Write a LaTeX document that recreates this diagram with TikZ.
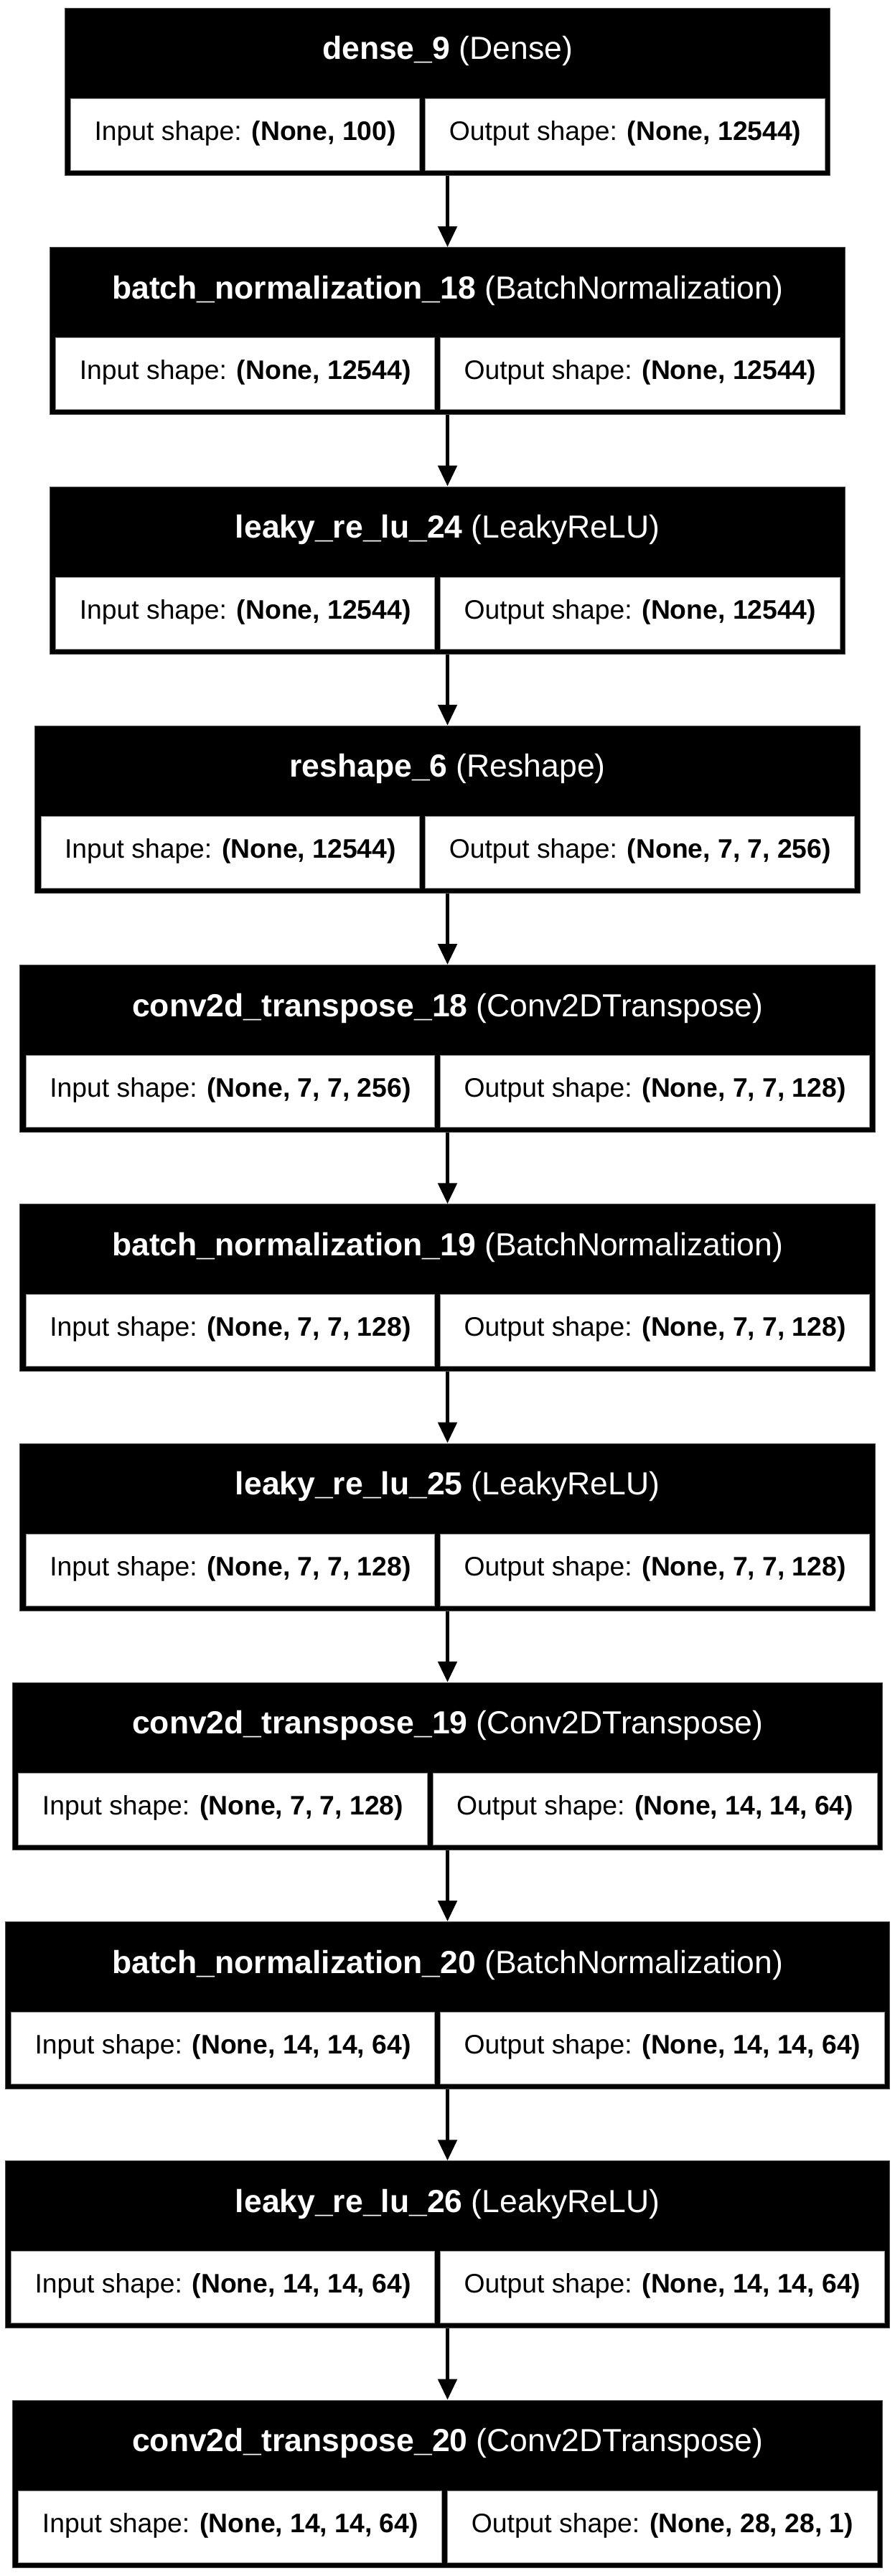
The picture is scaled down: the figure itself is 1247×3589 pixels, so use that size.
\documentclass[tikz,border=0pt]{standalone}
\usepackage{fontspec}
\setmainfont{Liberation Sans}
\usetikzlibrary{arrows.meta}
\newcommand\cellfont{\fontsize{37.3}{44}\selectfont}
\newcommand\headfont{\fontsize{44.5}{52}\selectfont}
\newcommand\inp[1]{Input shape: \textbf{#1}}
\newcommand\outp[1]{Output shape: \textbf{#1}}
\tikzset{
 outerbox/.style={fill=black, draw=black!70, line width=1pt, inner sep=0pt, minimum height=233pt},
 cellbox/.style={fill=white, draw=black!45, line width=1pt, inner sep=0pt, minimum height=100pt,
   text height=26pt, text depth=10pt, font=\cellfont, anchor=north west},
 headtext/.style={text=white, font=\headfont, inner sep=0pt, anchor=base},
 flow/.style={line width=5.5pt, -{Triangle[length=29pt,width=26pt]}},
}
\newcommand\layerbox[5]{%
 \pgfinterruptpicture
  \setbox1=\hbox{\cellfont #4}\xdef\mywa{\the\wd1}%
  \setbox1=\hbox{\cellfont #5}\xdef\mywb{\the\wd1}%
 \endpgfinterruptpicture
 \pgfmathsetmacro\wa{\mywa+66}%
 \pgfmathsetmacro\wb{\mywb+66}%
 \pgfmathsetmacro\W{\wa+\wb+24}%
 \pgfmathsetmacro\L{623.5-\W/2}%
 \node[outerbox, minimum width=\W pt, anchor=north] (#1) at (623.5,-#2) {};
 \node[headtext] (#1-head) at (623.5,-#2-72) {#3};
 \node[cellbox, minimum width=\wa pt] (#1-in) at (\L+8,-#2-126) {#4};
 \node[cellbox, minimum width=\wb pt] (#1-out) at (\L+16+\wa,-#2-126) {#5};
}
\begin{document}
\begin{tikzpicture}[x=1pt,y=1pt]
\useasboundingbox[fill=white] (0,0) rectangle (1247,-3589);
\layerbox{b1}{11}{\textbf{dense\_9} (Dense)}{\inp{(None, 100)}}{\outp{(None, 12544)}}
\layerbox{b2}{344.25}{\textbf{batch\_normalization\_18} (BatchNormalization)}{\inp{(None, 12544)}}{\outp{(None, 12544)}}
\layerbox{b3}{677.5}{\textbf{leaky\_re\_lu\_24} (LeakyReLU)}{\inp{(None, 12544)}}{\outp{(None, 12544)}}
\layerbox{b4}{1010.75}{\textbf{reshape\_6} (Reshape)}{\inp{(None, 12544)}}{\outp{(None, 7, 7, 256)}}
\layerbox{b5}{1344}{\textbf{conv2d\_transpose\_18} (Conv2DTranspose)}{\inp{(None, 7, 7, 256)}}{\outp{(None, 7, 7, 128)}}
\layerbox{b6}{1677.25}{\textbf{batch\_normalization\_19} (BatchNormalization)}{\inp{(None, 7, 7, 128)}}{\outp{(None, 7, 7, 128)}}
\layerbox{b7}{2010.5}{\textbf{leaky\_re\_lu\_25} (LeakyReLU)}{\inp{(None, 7, 7, 128)}}{\outp{(None, 7, 7, 128)}}
\layerbox{b8}{2343.75}{\textbf{conv2d\_transpose\_19} (Conv2DTranspose)}{\inp{(None, 7, 7, 128)}}{\outp{(None, 14, 14, 64)}}
\layerbox{b9}{2677}{\textbf{batch\_normalization\_20} (BatchNormalization)}{\inp{(None, 14, 14, 64)}}{\outp{(None, 14, 14, 64)}}
\layerbox{b10}{3010.25}{\textbf{leaky\_re\_lu\_26} (LeakyReLU)}{\inp{(None, 14, 14, 64)}}{\outp{(None, 14, 14, 64)}}
\layerbox{b11}{3343.5}{\textbf{conv2d\_transpose\_20} (Conv2DTranspose)}{\inp{(None, 14, 14, 64)}}{\outp{(None, 28, 28, 1)}}
\foreach \a/\b in {b1/b2,b2/b3,b3/b4,b4/b5,b5/b6,b6/b7,b7/b8,b8/b9,b9/b10,b10/b11}
  \draw[flow] (\a.south) -- (\b.north);
\end{tikzpicture}
\end{document}
